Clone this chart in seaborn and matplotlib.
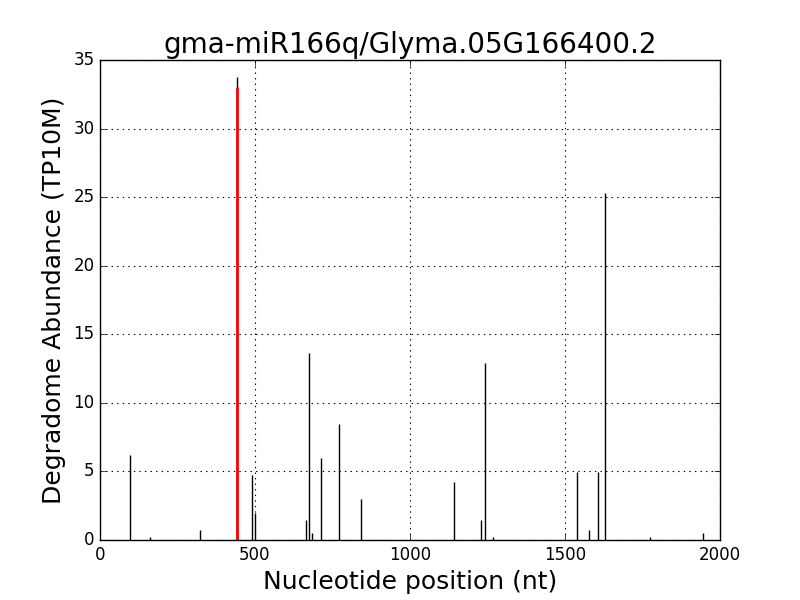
import matplotlib
matplotlib.use("Agg")
import matplotlib.pyplot as plt
import seaborn as sns
import pandas as pd

positions = [96, 162, 324, 441, 489, 501, 665, 675, 683, 712, 772, 842,
             1143, 1229, 1243, 1269, 1540, 1578, 1608, 1630, 1775, 1946]
abundance = [6.2, 0.2, 0.73, 33.75, 4.74, 1.95, 1.46, 13.64, 0.49, 5.97, 8.45, 2.97,
             4.2, 1.46, 12.9, 0.2, 4.93, 0.73, 4.93, 25.3, 0.2, 0.49]
target_position = [441]
target_abundance = [33.0]

title = "gma-miR166q/Glyma.05G166400.2"
xlabel = "Nucleotide position (nt)"
ylabel = "Degradome Abundance (TP10M)"

sns.set_style("white")
plt.style.use("classic")
plt.rcParams["font.family"] = ["DejaVu Sans"]

df = pd.DataFrame({"pos": positions, "abund": abundance})
tdf = pd.DataFrame({"pos": target_position, "abund": target_abundance})

fig = plt.figure(figsize=(8, 6), dpi=100, facecolor="white")
ax = fig.add_axes([0.125, 0.1, 0.775, 0.8])
ax.vlines(df["pos"], 0, df["abund"], colors="black", linewidth=1.0)
ax.vlines(tdf["pos"], 0, tdf["abund"], colors="red", linewidth=2.0)

ax.set_xlim(0, 2000)
ax.set_ylim(0, 35)
ax.set_xticks([0, 500, 1000, 1500, 2000])
ax.set_yticks([0, 5, 10, 15, 20, 25, 30, 35])
ax.grid(True, linestyle=":", color="black", linewidth=0.8)
ax.set_axisbelow(True)
ax.tick_params(labelsize=12)
ax.set_title(title, fontsize=20)
ax.set_xlabel(xlabel, fontsize=18)
ax.set_ylabel(ylabel, fontsize=18)
fig.savefig("out.png", dpi=100, facecolor="white")
